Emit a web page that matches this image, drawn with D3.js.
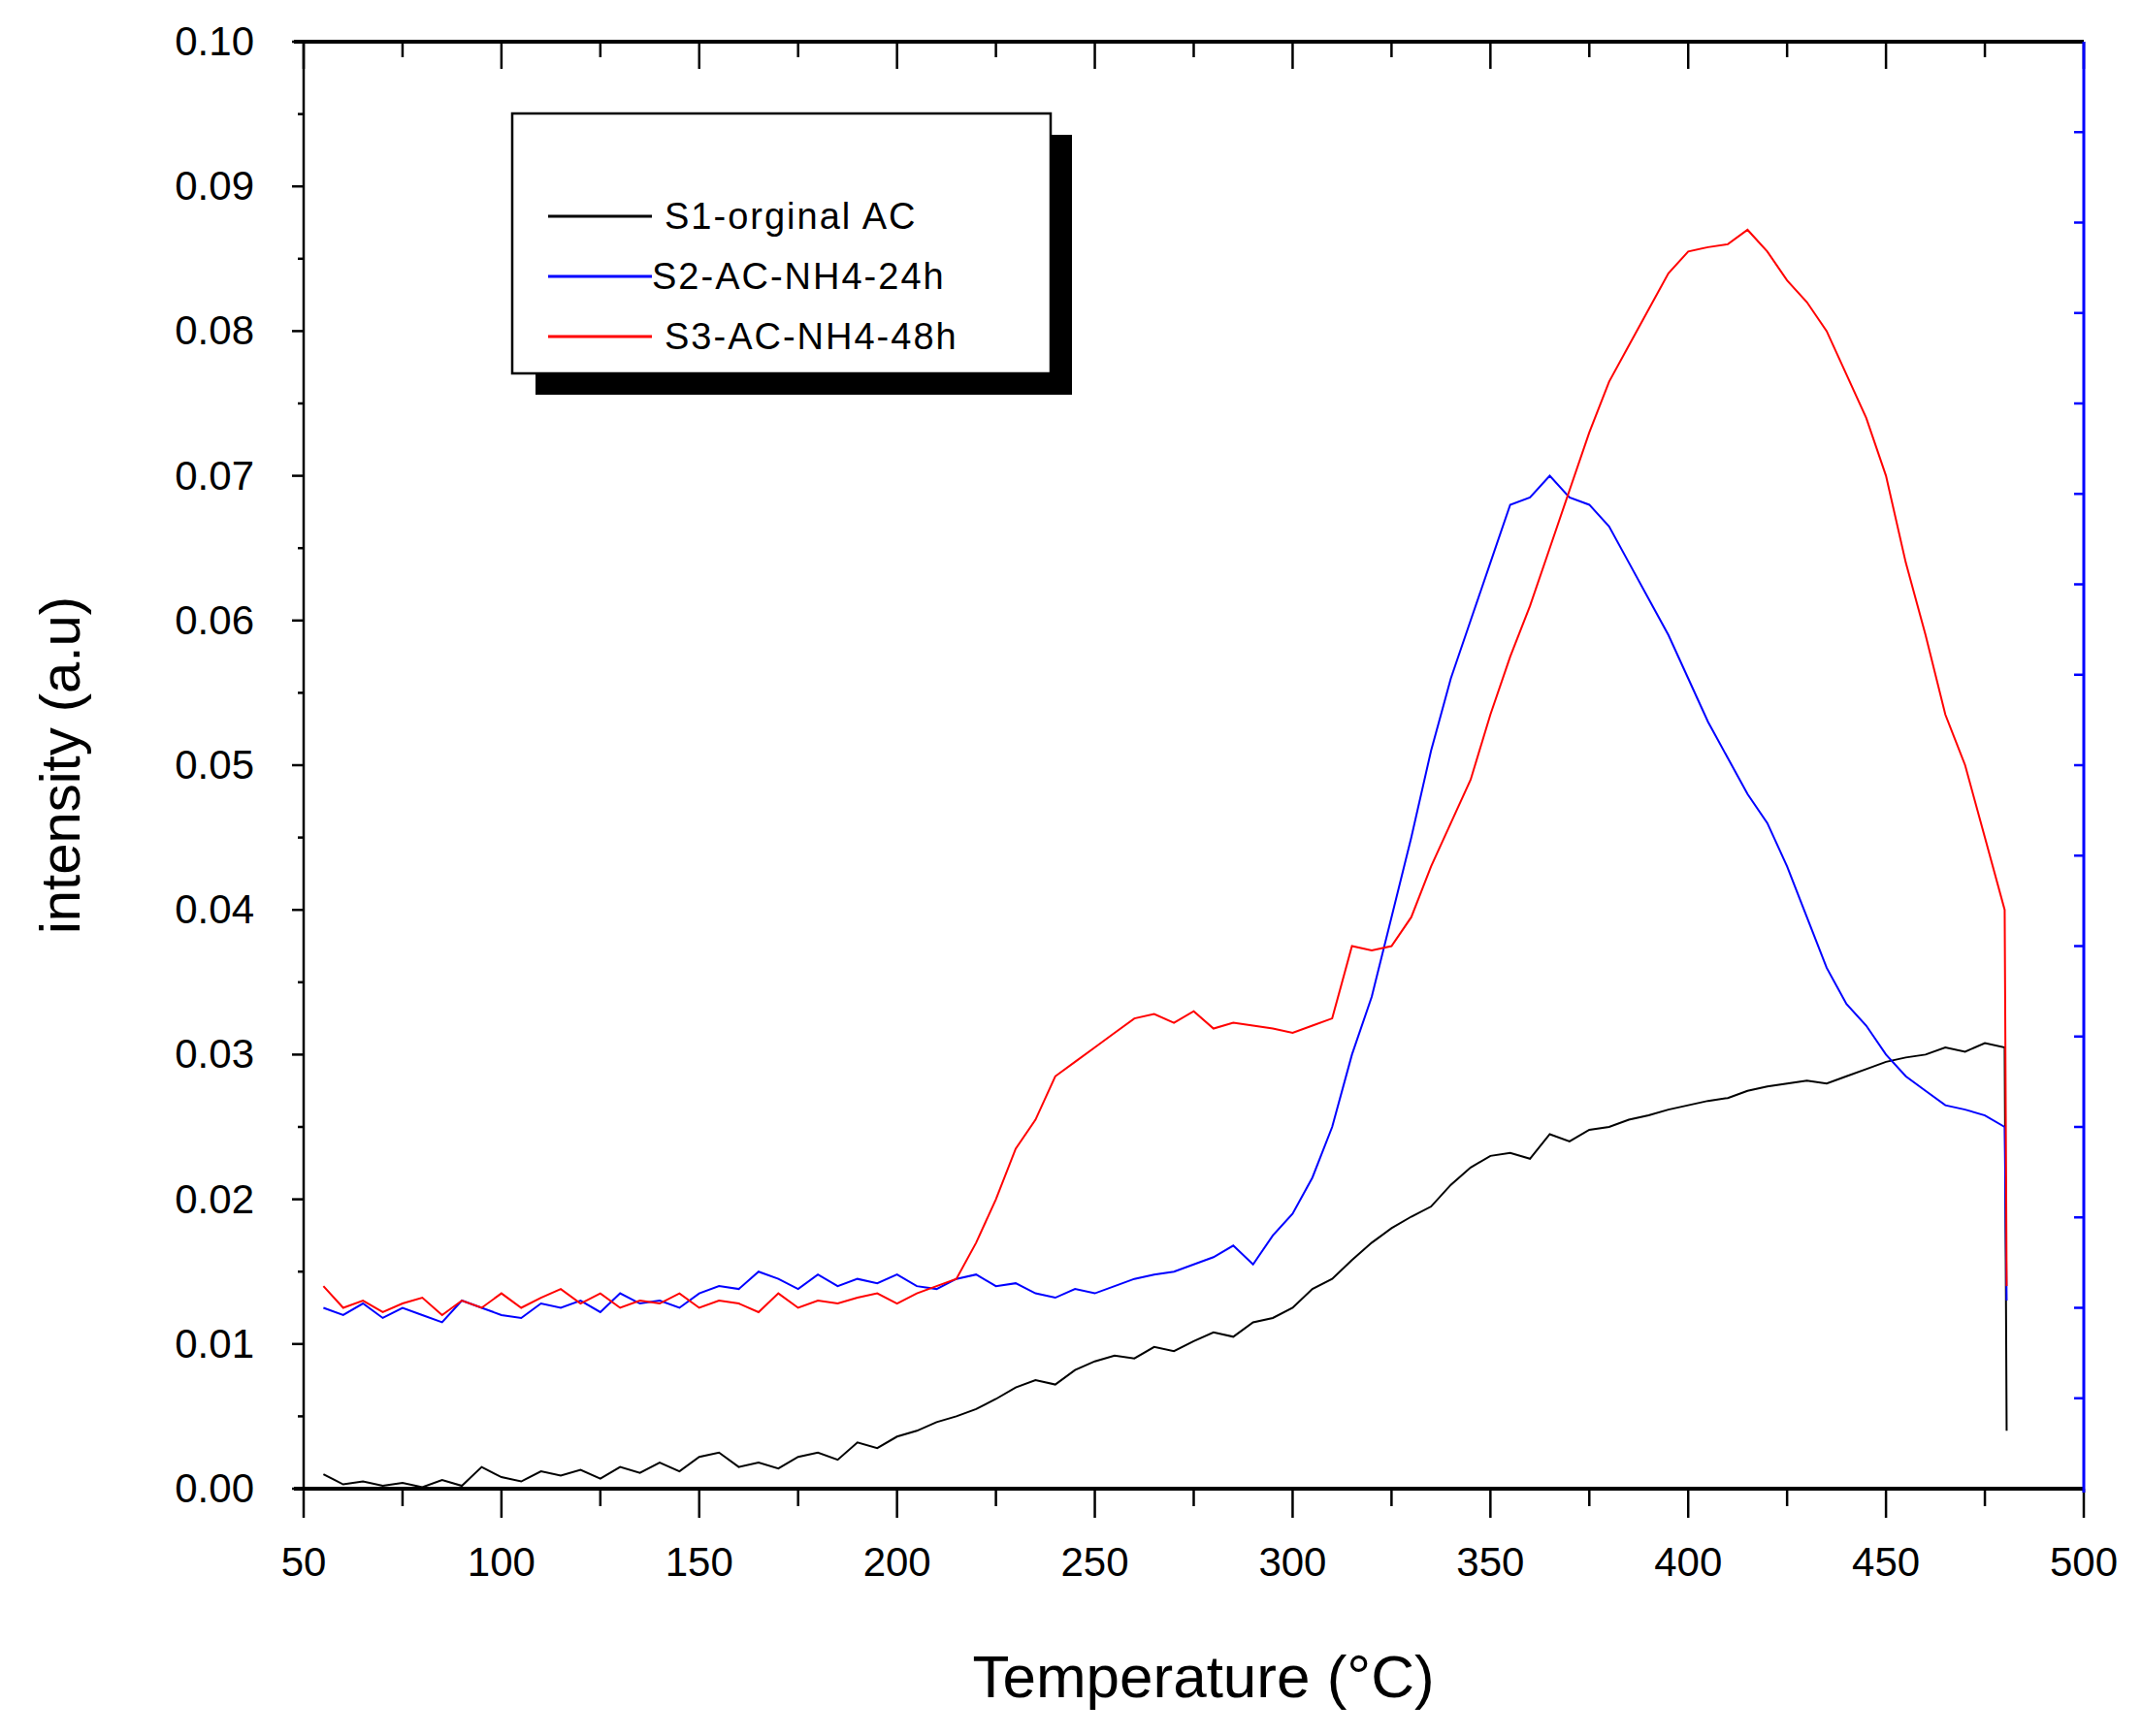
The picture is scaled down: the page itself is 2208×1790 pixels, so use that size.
<!DOCTYPE html>
<html><head><meta charset="utf-8">
<script src="https://cdn.jsdelivr.net/npm/d3@7"></script>
<style>body{margin:0;background:#fff}text{font-family:"Liberation Sans",Arial,sans-serif}</style>
</head><body><svg id="chart" width="2208" height="1790"></svg>
<script>
// temperatures (°C), last point is the drop at the end of the run
var temps = [55,60,65,70,75,80,85,90,95,100,105,110,115,120,125,130,135,140,145,150,
  155,160,165,170,175,180,185,190,195,200,205,210,215,220,225,230,235,240,245,250,
  255,260,265,270,275,280,285,290,295,300,305,310,315,320,325,330,335,340,345,350,
  355,360,365,370,375,380,385,390,395,400,405,410,415,420,425,430,435,440,445,450,
  455,460,465,470,475,480,480.5];
var s1 = [0.001,0.0003,0.0005,0.0002,0.0004,0.0001,0.0006,0.0002,0.0015,0.0008,
  0.0005,0.0012,0.0009,0.0013,0.0007,0.0015,0.0011,0.0018,0.0012,0.0022,
  0.0025,0.0015,0.0018,0.0014,0.0022,0.0025,0.0020,0.0032,0.0028,0.0036,
  0.0040,0.0046,0.0050,0.0055,0.0062,0.0070,0.0075,0.0072,0.0082,0.0088,
  0.0092,0.0090,0.0098,0.0095,0.0102,0.0108,0.0105,0.0115,0.0118,0.0125,
  0.0138,0.0145,0.0158,0.0170,0.0180,0.0188,0.0195,0.0210,0.0222,0.0230,
  0.0232,0.0228,0.0245,0.0240,0.0248,0.0250,0.0255,0.0258,0.0262,0.0265,
  0.0268,0.0270,0.0275,0.0278,0.0280,0.0282,0.0280,0.0285,0.0290,0.0295,
  0.0298,0.0300,0.0305,0.0302,0.0308,0.0305,0.004];
var s2 = [0.0125,0.012,0.0128,0.0118,0.0125,0.012,0.0115,0.013,0.0125,0.012,
  0.0118,0.0128,0.0125,0.013,0.0122,0.0135,0.0128,0.013,0.0125,0.0135,
  0.014,0.0138,0.015,0.0145,0.0138,0.0148,0.014,0.0145,0.0142,0.0148,
  0.014,0.0138,0.0145,0.0148,0.0140,0.0142,0.0135,0.0132,0.0138,0.0135,
  0.0140,0.0145,0.0148,0.0150,0.0155,0.0160,0.0168,0.0155,0.0175,0.0190,
  0.0215,0.0250,0.0300,0.0340,0.0395,0.0450,0.0510,0.0560,0.0600,0.0640,
  0.0680,0.0685,0.0700,0.0685,0.0680,0.0665,0.0640,0.0615,0.0590,0.0560,
  0.0530,0.0505,0.0480,0.0460,0.0430,0.0395,0.0360,0.0335,0.0320,0.0300,
  0.0285,0.0275,0.0265,0.0262,0.0258,0.0250,0.013];
var s3 = [0.0140,0.0125,0.0130,0.0122,0.0128,0.0132,0.0120,0.0130,0.0125,0.0135,
  0.0125,0.0132,0.0138,0.0128,0.0135,0.0125,0.0130,0.0128,0.0135,0.0125,
  0.0130,0.0128,0.0122,0.0135,0.0125,0.0130,0.0128,0.0132,0.0135,0.0128,
  0.0135,0.0140,0.0145,0.0170,0.0200,0.0235,0.0255,0.0285,0.0295,0.0305,
  0.0315,0.0325,0.0328,0.0322,0.0330,0.0318,0.0322,0.0320,0.0318,0.0315,
  0.0320,0.0325,0.0375,0.0372,0.0375,0.0395,0.0430,0.0460,0.0490,0.0535,
  0.0575,0.0610,0.0650,0.0690,0.0730,0.0765,0.0790,0.0815,0.0840,0.0855,
  0.0858,0.0860,0.0870,0.0855,0.0835,0.0820,0.0800,0.0770,0.0740,0.0700,
  0.0640,0.0590,0.0535,0.0500,0.0450,0.0400,0.014];
var seriesNames = ["S1-orginal AC", "S2-AC-NH4-24h", "S3-AC-NH4-48h"];
var seriesColors = ["#000000", "#0000ff", "#ff0000"];
var xTicks = [50,100,150,200,250,300,350,400,450,500];
var yTicks = [0,0.01,0.02,0.03,0.04,0.05,0.06,0.07,0.08,0.09,0.10];

var svg = d3.select("#chart");
var L = 313, R = 2148, T = 43, B = 1535;
var x = d3.scaleLinear().domain([50, 500]).range([L, R]);
var y = d3.scaleLinear().domain([0, 0.10]).range([B, T]);

// lines
[s1, s2, s3].forEach(function (s, i) {
	var line = d3.line().x(function (d, j) { return x(temps[j]); }).y(function (d) { return y(d); });
	svg.append("path").datum(s).attr("d", line)
		.attr("fill", "none").attr("stroke", seriesColors[i]).attr("stroke-width", 2);
});

// bottom axis
var minorX = d3.range(75, 500, 50);
svg.selectAll(".xt").data(xTicks).enter().append("line")
	.attr("x1", function (d) { return x(d); }).attr("x2", function (d) { return x(d); })
	.attr("y1", B).attr("y2", B + 30).attr("stroke", "#000").attr("stroke-width", 2.5);
svg.selectAll(".xm").data(minorX).enter().append("line")
	.attr("x1", function (d) { return x(d); }).attr("x2", function (d) { return x(d); })
	.attr("y1", B).attr("y2", B + 18).attr("stroke", "#000").attr("stroke-width", 2.5);
svg.selectAll(".xl").data(xTicks).enter().append("text")
	.attr("x", function (d) { return x(d); }).attr("y", 1625).attr("text-anchor", "middle")
	.attr("font-size", 42).text(function (d) { return d; });
// top axis, ticks inward
svg.selectAll(".xtt").data(xTicks).enter().append("line")
	.attr("x1", function (d) { return x(d); }).attr("x2", function (d) { return x(d); })
	.attr("y1", T).attr("y2", T + 28).attr("stroke", "#000").attr("stroke-width", 2.5);
svg.selectAll(".xtm").data(minorX).enter().append("line")
	.attr("x1", function (d) { return x(d); }).attr("x2", function (d) { return x(d); })
	.attr("y1", T).attr("y2", T + 16).attr("stroke", "#000").attr("stroke-width", 2.5);

// left axis
var minorY = d3.range(0.005, 0.1, 0.01);
svg.selectAll(".yt").data(yTicks).enter().append("line")
	.attr("x1", L - 12).attr("x2", L)
	.attr("y1", function (d) { return y(d); }).attr("y2", function (d) { return y(d); })
	.attr("stroke", "#000").attr("stroke-width", 2.5);
svg.selectAll(".ym").data(minorY).enter().append("line")
	.attr("x1", L - 6).attr("x2", L)
	.attr("y1", function (d) { return y(d); }).attr("y2", function (d) { return y(d); })
	.attr("stroke", "#000").attr("stroke-width", 2.5);
svg.selectAll(".yl").data(yTicks).enter().append("text")
	.attr("x", 262).attr("y", function (d) { return y(d) + 14; }).attr("text-anchor", "end")
	.attr("font-size", 42).text(function (d) { return d3.format(".2f")(d); });

// right axis (blue)
var rightTicks = d3.range(1, 16).map(function (i) { return i / 16; });
svg.selectAll(".rt").data(rightTicks).enter().append("line")
	.attr("x1", R - 10).attr("x2", R)
	.attr("y1", function (d) { return B - d * (B - T); }).attr("y2", function (d) { return B - d * (B - T); })
	.attr("stroke", "#0000ff").attr("stroke-width", 2.5);

// frame
svg.append("line").attr("x1", L - 10).attr("x2", R).attr("y1", T).attr("y2", T).attr("stroke", "#000").attr("stroke-width", 4);
svg.append("line").attr("x1", L - 10).attr("x2", R).attr("y1", B).attr("y2", B).attr("stroke", "#000").attr("stroke-width", 4);
svg.append("line").attr("x1", L).attr("x2", L).attr("y1", T).attr("y2", B).attr("stroke", "#000").attr("stroke-width", 2.5);
svg.append("line").attr("x1", R).attr("x2", R).attr("y1", T).attr("y2", B + 4).attr("stroke", "#0000ff").attr("stroke-width", 3);

// axis titles
svg.append("text").attr("x", (L + R) / 2 + 10).attr("y", 1750).attr("text-anchor", "middle")
	.attr("font-size", 62).text("Temperature (°C)");
svg.append("text").attr("transform", "translate(82," + (T + B) / 2 + ") rotate(-90)")
	.attr("text-anchor", "middle").attr("font-size", 58).text("intensity (a.u)");

// legend
var lg = svg.append("g");
lg.append("rect").attr("x", 552).attr("y", 139).attr("width", 553).attr("height", 268).attr("fill", "#000");
lg.append("rect").attr("x", 528).attr("y", 117).attr("width", 555).attr("height", 268)
	.attr("fill", "#fff").attr("stroke", "#000").attr("stroke-width", 2.5);
seriesNames.forEach(function (n, i) {
	var yy = 223 + i * 62;
	lg.append("line").attr("x1", 565).attr("x2", 672).attr("y1", yy).attr("y2", yy)
		.attr("stroke", seriesColors[i]).attr("stroke-width", 3);
	lg.append("text").attr("x", i === 1 ? 672 : 685).attr("y", yy + 13).attr("font-size", 38)
		.attr("letter-spacing", 2).text(n);
});
</script></body></html>
